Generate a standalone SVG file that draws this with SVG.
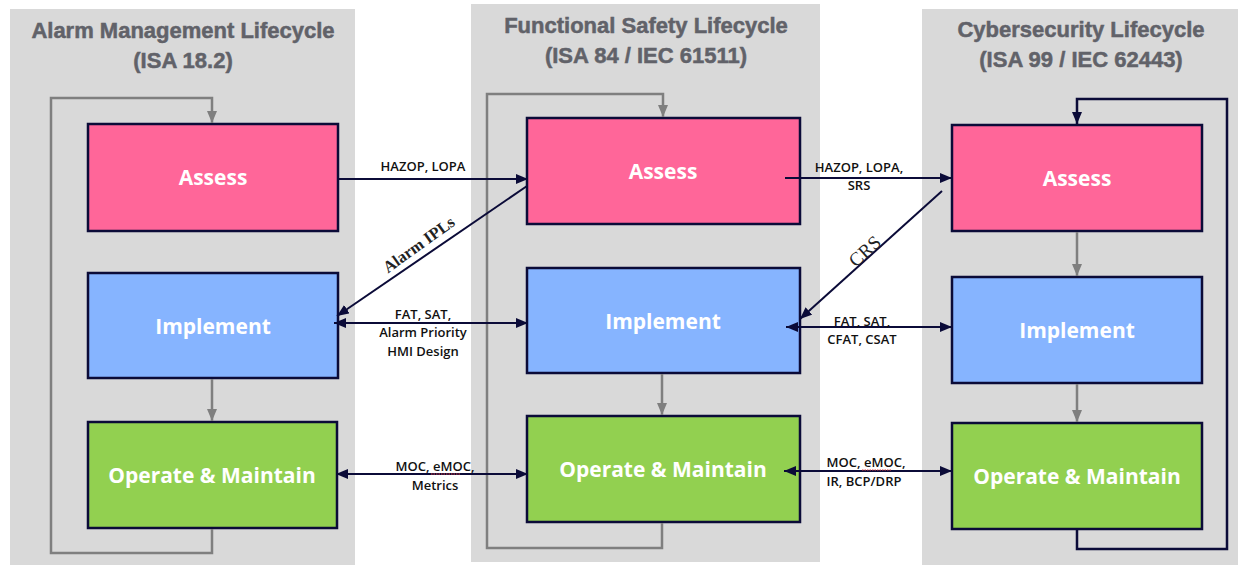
<svg xmlns="http://www.w3.org/2000/svg" width="1238" height="565" viewBox="0 0 1238 565">
  <defs>
    <style>
      .panel { fill: #d9d9d9; }
      .title { font-family: "Liberation Sans", Arial, sans-serif; font-weight: bold; font-size: 22px; fill: #616269; stroke: #616269; stroke-width: 0.5; text-anchor: middle; }
      .box { stroke: #0b0b38; stroke-width: 2.5; }
      .assess { fill: #ff6699; }
      .implement { fill: #86b4ff; }
      .operate { fill: #92d050; }
      .box-label { font-family: "Open Sans", "Liberation Sans", sans-serif; font-weight: bold; font-size: 21px; fill: #ffffff; text-anchor: middle; }
      .flow { fill: none; stroke: #7f7f7f; stroke-width: 2.5; }
      .loop-navy { fill: none; stroke: #0b0b38; stroke-width: 2.5; }
      .link { fill: none; stroke: #0b0b38; stroke-width: 2; }
      .link-label { font-family: "Open Sans", "Liberation Sans", sans-serif; font-weight: 600; font-size: 13px; fill: #111111; text-anchor: middle; }
      .diag-label { font-family: "Liberation Serif", "Times New Roman", serif; fill: #222222; text-anchor: middle; }
      .squiggle { fill: none; stroke: #e04040; stroke-width: 1; stroke-dasharray: 1.5 1; }
    </style>
    <marker id="head-navy" viewBox="0 0 12 10" refX="12" refY="5" markerWidth="12" markerHeight="10" markerUnits="userSpaceOnUse" orient="auto-start-reverse">
      <path d="M0,0 L12,5 L0,10 z" fill="#0b0b38"/>
    </marker>
    <marker id="head-gray" viewBox="0 0 12 10" refX="12" refY="5" markerWidth="12" markerHeight="10" markerUnits="userSpaceOnUse" orient="auto-start-reverse">
      <path d="M0,0 L12,5 L0,10 z" fill="#7f7f7f"/>
    </marker>
  </defs>

  <rect width="1238" height="565" fill="#ffffff"/>

  <!-- lifecycle panels -->
  <g id="panel-alarm">
    <rect class="panel" x="10" y="9" width="345" height="556"/>
    <text class="title" x="183" y="38">Alarm Management Lifecycle</text>
    <text class="title" x="183" y="68">(ISA 18.2)</text>
  </g>
  <g id="panel-safety">
    <rect class="panel" x="471" y="4" width="349" height="558"/>
    <text class="title" x="646" y="33">Functional Safety Lifecycle</text>
    <text class="title" x="646" y="63">(ISA 84 / IEC 61511)</text>
  </g>
  <g id="panel-cyber">
    <rect class="panel" x="922" y="9" width="316" height="556"/>
    <text class="title" x="1081" y="37">Cybersecurity Lifecycle</text>
    <text class="title" x="1081" y="67">(ISA 99 / IEC 62443)</text>
  </g>

  <!-- alarm management nodes -->
  <g id="alarm-assess">
    <rect class="box assess" x="88" y="124" width="250" height="107"/>
    <text class="box-label" x="213" y="185">Assess</text>
  </g>
  <g id="alarm-implement">
    <rect class="box implement" x="88" y="273" width="250" height="105"/>
    <text class="box-label" x="213" y="334">Implement</text>
  </g>
  <g id="alarm-operate">
    <rect class="box operate" x="88" y="422" width="249" height="106"/>
    <text class="box-label" x="212" y="483">Operate &amp; Maintain</text>
  </g>

  <!-- functional safety nodes -->
  <g id="safety-assess">
    <rect class="box assess" x="527" y="118" width="273" height="106"/>
    <text class="box-label" x="663" y="179">Assess</text>
  </g>
  <g id="safety-implement">
    <rect class="box implement" x="527" y="268" width="273" height="105"/>
    <text class="box-label" x="663" y="329">Implement</text>
  </g>
  <g id="safety-operate">
    <rect class="box operate" x="527" y="416" width="273" height="106"/>
    <text class="box-label" x="663" y="477">Operate &amp; Maintain</text>
  </g>

  <!-- cybersecurity nodes -->
  <g id="cyber-assess">
    <rect class="box assess" x="952" y="125" width="250" height="106"/>
    <text class="box-label" x="1077" y="186">Assess</text>
  </g>
  <g id="cyber-implement">
    <rect class="box implement" x="952" y="277" width="250" height="106"/>
    <text class="box-label" x="1077" y="338">Implement</text>
  </g>
  <g id="cyber-operate">
    <rect class="box operate" x="952" y="423" width="250" height="106"/>
    <text class="box-label" x="1077" y="484">Operate &amp; Maintain</text>
  </g>

  <!-- connectors -->
  <g id="connectors">
    <!-- alarm management loop -->
    <path class="flow" d="M212,529 V553 H51 V98 H212 V123" marker-end="url(#head-gray)"/>
    <path class="flow" d="M212,379 V421" marker-end="url(#head-gray)"/>

    <!-- functional safety loop -->
    <path class="flow" d="M662,523 V548 H487 V94 H663 V117" marker-end="url(#head-gray)"/>
    <path class="flow" d="M662,374 V415" marker-end="url(#head-gray)"/>

    <!-- cybersecurity loop -->
    <path class="loop-navy" d="M1077,530 V549 H1227 V99 H1077 V124" marker-end="url(#head-navy)"/>
    <path class="flow" d="M1077,232 V276" marker-end="url(#head-gray)"/>
    <path class="flow" d="M1077,384 V422" marker-end="url(#head-gray)"/>

    <!-- alarm management <-> functional safety -->
    <path class="link" d="M338,179 H528" marker-end="url(#head-navy)"/>
    <text class="link-label" x="423" y="171">HAZOP, LOPA</text>
    <path class="link" d="M527,186 L337,316" marker-end="url(#head-navy)"/>
    <text class="diag-label" font-size="16.5" font-weight="bold" transform="translate(422,249) rotate(-35.6)">Alarm IPLs</text>
    <path class="link" d="M334,323 H528" marker-start="url(#head-navy)" marker-end="url(#head-navy)"/>
    <text class="link-label" x="423" y="319">FAT, SAT,</text>
    <text class="link-label" x="423" y="337">Alarm Priority</text>
    <text class="link-label" x="423" y="356">HMI Design</text>
    <path class="link" d="M336,474 H528" marker-start="url(#head-navy)" marker-end="url(#head-navy)"/>
    <text class="link-label" x="435" y="471">MOC, eMOC,</text>
    <path class="squiggle" d="M431,474 H461"/>
    <text class="link-label" x="435" y="490">Metrics</text>

    <!-- functional safety <-> cybersecurity -->
    <path class="link" d="M785,178 H952" marker-end="url(#head-navy)"/>
    <text class="link-label" x="859" y="172">HAZOP, LOPA,</text>
    <text class="link-label" x="859" y="190">SRS</text>
    <path class="link" d="M942,191 L800,319" marker-end="url(#head-navy)"/>
    <text class="diag-label" font-size="19" transform="translate(869,256) rotate(-42)">CRS</text>
    <path class="link" d="M786,327 H952" marker-start="url(#head-navy)" marker-end="url(#head-navy)"/>
    <text class="link-label" x="862" y="326">FAT, SAT,</text>
    <text class="link-label" x="862" y="344">CFAT, CSAT</text>
    <path class="link" d="M784,471 H952" marker-start="url(#head-navy)" marker-end="url(#head-navy)"/>
    <text class="link-label" x="866" y="467">MOC, eMOC,</text>
    <path class="squiggle" d="M862,470 H892"/>
    <text class="link-label" x="864" y="486">IR, BCP/DRP</text>
  </g>
</svg>
